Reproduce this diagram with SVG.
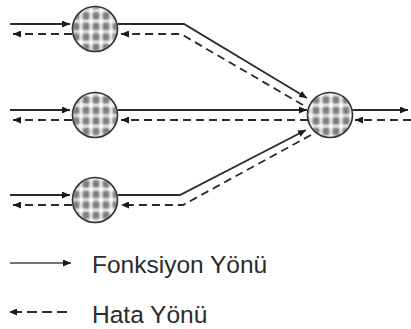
<svg xmlns="http://www.w3.org/2000/svg" width="411" height="329" viewBox="0 0 411 329">
  <style>
    .flow { fill: none; stroke: #2a2a2a; stroke-width: 1.8; }
    .fault { fill: none; stroke: #2a2a2a; stroke-width: 1.8; stroke-dasharray: 8 5; }
    .ring { fill: none; stroke: #333; stroke-width: 1.6; }
    .core { fill: url(#grain); filter: url(#soft); }
    .label { font-family: "Liberation Sans", Arial, sans-serif; font-size: 24.5px; fill: #2b2b2b; }
  </style>
  <defs>
    <pattern id="grain" x="1" y="0" width="10" height="10.5" patternUnits="userSpaceOnUse">
      <rect width="10" height="10.5" fill="#fff"/>
      <rect x="1.2" y="1.2" width="7.6" height="8.4" rx="2.5" fill="#7e7e7e"/>
    </pattern>
    <filter id="soft" x="-10%" y="-10%" width="120%" height="120%">
      <feGaussianBlur stdDeviation="0.8"/>
    </filter>
    <marker id="head" viewBox="0 0 8 7" refX="8" refY="3.5" markerWidth="8" markerHeight="7" markerUnits="userSpaceOnUse" orient="auto">
      <path d="M0,0 L8,3.5 L0,7 Z" fill="#1a1a1a"/>
    </marker>
  </defs>

  <g id="connectors">
    <!-- upper branch -->
    <path class="flow" d="M10,24 H70" marker-end="url(#head)"/>
    <path class="fault" d="M72,34 H13" marker-end="url(#head)"/>
    <path class="flow" d="M118,24 H184 L307,98" marker-end="url(#head)"/>
    <path class="fault" d="M303,105 L181,34 H121" marker-end="url(#head)"/>
    <!-- middle branch -->
    <path class="flow" d="M10,110 H70" marker-end="url(#head)"/>
    <path class="fault" d="M72,120 H13" marker-end="url(#head)"/>
    <path class="flow" d="M118,110 H307" marker-end="url(#head)"/>
    <path class="fault" d="M308,120 H121" marker-end="url(#head)"/>
    <!-- lower branch -->
    <path class="flow" d="M10,195 H70" marker-end="url(#head)"/>
    <path class="fault" d="M72,205 H13" marker-end="url(#head)"/>
    <path class="flow" d="M118,195 H180 L306,130" marker-end="url(#head)"/>
    <path class="fault" d="M311,135 L183,205 H121" marker-end="url(#head)"/>
    <!-- output -->
    <path class="flow" d="M352,110 H408" marker-end="url(#head)"/>
    <path class="fault" d="M411,120 H355" marker-end="url(#head)"/>
  </g>

  <g id="node-top">
    <circle class="core" cx="95" cy="29" r="22.5"/>
    <circle class="ring" cx="95" cy="29" r="22.5"/>
  </g>
  <g id="node-middle">
    <circle class="core" cx="95" cy="115" r="22.5"/>
    <circle class="ring" cx="95" cy="115" r="22.5"/>
  </g>
  <g id="node-bottom">
    <circle class="core" cx="95" cy="200" r="22.5"/>
    <circle class="ring" cx="95" cy="200" r="22.5"/>
  </g>
  <g id="node-join">
    <circle class="core" cx="330" cy="115" r="22.5"/>
    <circle class="ring" cx="330" cy="115" r="22.5"/>
  </g>

  <g id="legend">
    <path d="M10,263 H71" fill="none" stroke="#444" stroke-width="1.5" marker-end="url(#head)"/>
    <text class="label" x="92" y="273">Fonksiyon Yönü</text>
    <path d="M67,312 H9" fill="none" stroke="#2a2a2a" stroke-width="1.8" stroke-dasharray="10 5" marker-end="url(#head)"/>
    <text class="label" x="92" y="323">Hata Yönü</text>
  </g>
</svg>
